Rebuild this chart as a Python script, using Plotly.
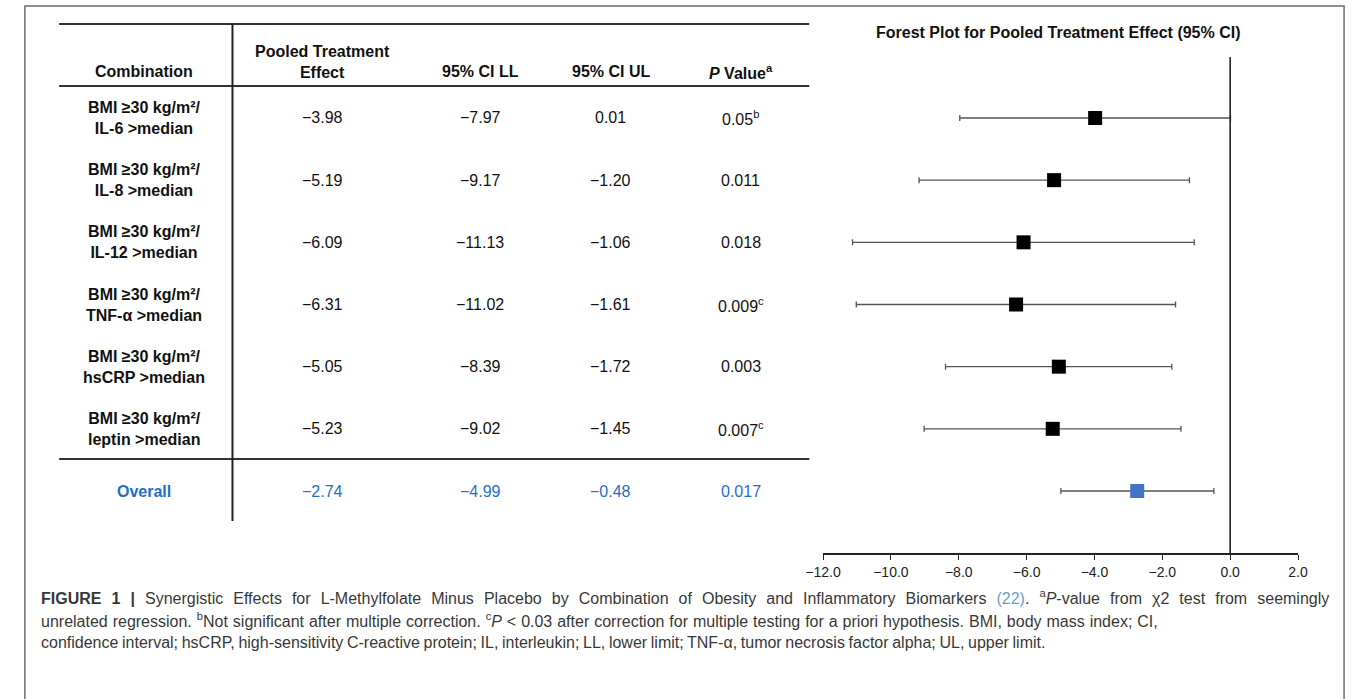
import plotly.graph_objects as go

W, H = 1357, 699

# ---------------- data ----------------
combinations = [
    "BMI ≥30 kg/m²/<br>IL-6 >median",
    "BMI ≥30 kg/m²/<br>IL-8 >median",
    "BMI ≥30 kg/m²/<br>IL-12 >median",
    "BMI ≥30 kg/m²/<br>TNF-α >median",
    "BMI ≥30 kg/m²/<br>hsCRP >median",
    "BMI ≥30 kg/m²/<br>leptin >median",
]
overall_label = "Overall"
effects = [-3.98, -5.19, -6.09, -6.31, -5.05, -5.23]
ci_ll = [-7.97, -9.17, -11.13, -11.02, -8.39, -9.02]
ci_ul = [0.01, -1.20, -1.06, -1.61, -1.72, -1.45]
p_values = ["0.05", "0.011", "0.018", "0.009", "0.003", "0.007"]
p_notes = ["b", "", "", "c", "", "c"]
overall_effect = -2.74
overall_ll = -4.99
overall_ul = -0.48
overall_p = "0.017"
x_ticks = [-12, -10, -8, -6, -4, -2, 0, 2]

headers = ["Combination", "Pooled Treatment<br>Effect", "95% CI LL", "95% CI UL",
           "<i>P</i> Value<sup>a</sup>"]
plot_title = "Forest Plot for Pooled Treatment Effect (95% CI)"

caption_lines = [
    "<b>FIGURE 1 |</b> Synergistic Effects for L-Methylfolate Minus Placebo by Combination of Obesity and "
    "Inflammatory Biomarkers <span style='color:#6b9ccc'>(22)</span>. <sup>a</sup><i>P</i>-value from χ2 test from seemingly",
    "unrelated regression. <sup>b</sup>Not significant after multiple correction. <sup>c</sup><i>P</i> &lt; 0.03 after "
    "correction for multiple testing for a priori hypothesis. BMI, body mass index; CI,",
    "confidence interval; hsCRP, high-sensitivity C-reactive protein; IL, interleukin; LL, lower limit; "
    "TNF-α, tumor necrosis factor alpha; UL, upper limit.",
]

# ---------------- helpers ----------------
def px(x):
    return x / W

def py(y):
    return 1 - y / H

def fmt(v):
    s = f"{abs(v):.2f}"
    return ("−" + s) if v < 0 else s

BLACK = "#111111"
BLUE_TXT = "#1f6fc5"
BLUE_MK = "#4472C4"
FONT = "Arial, Liberation Sans, Helvetica, sans-serif"

n = len(effects)
rows = list(range(n))
overall_row = n

fig = go.Figure()

# forest plot: study rows
fig.add_trace(go.Scatter(
    x=effects, y=rows, mode="markers",
    marker=dict(symbol="square", size=14, color="black"),
    error_x=dict(type="data", symmetric=False,
                 array=[u - e for u, e in zip(ci_ul, effects)],
                 arrayminus=[e - l for e, l in zip(effects, ci_ll)],
                 color="#555555", thickness=1.3, width=3),
    showlegend=False, hoverinfo="skip",
))
# overall row
fig.add_trace(go.Scatter(
    x=[overall_effect], y=[overall_row], mode="markers",
    marker=dict(symbol="square", size=14, color=BLUE_MK),
    error_x=dict(type="data", symmetric=False,
                 array=[overall_ul - overall_effect],
                 arrayminus=[overall_effect - overall_ll],
                 color="#555555", thickness=1.3, width=3),
    showlegend=False, hoverinfo="skip",
))

# axes: forest plot area
fig.update_layout(
    xaxis=dict(domain=[px(822), px(1307)], range=[-12, 2], tickvals=x_ticks,
               tickformat=".1f", showgrid=False, zeroline=False,
               showline=True, linecolor="#222222", linewidth=1.5,
               ticks="outside", ticklen=5, tickwidth=1.3, tickcolor="#222222",
               tickfont=dict(family=FONT, size=14, color="#222222"),
               anchor="y", fixedrange=True),
    yaxis=dict(domain=[py(553), py(57)], range=[6.997, -0.981],
               showgrid=False, zeroline=False, showline=False,
               showticklabels=False, ticks="", fixedrange=True),
)

shapes = []
# zero line
shapes.append(dict(type="line", xref="x", yref="y domain", x0=0, x1=0, y0=0, y1=1,
                   line=dict(color="#222222", width=1.6)))
# outer frame
shapes.append(dict(type="rect", xref="paper", yref="paper",
                   x0=px(7), x1=px(1354), y0=py(705), y1=py(6),
                   line=dict(color="#6e6e6e", width=1.5)))
# table rules
for yy in (24, 86, 459):
    shapes.append(dict(type="line", xref="paper", yref="paper",
                       x0=px(42), x1=px(808), y0=py(yy), y1=py(yy),
                       line=dict(color="#333333", width=2)))
shapes.append(dict(type="line", xref="paper", yref="paper",
                   x0=px(219), x1=px(219), y0=py(24), y1=py(521),
                   line=dict(color="#222222", width=2)))

annotations = []
col_x = [129, 311, 472, 605, 738]

def add_text(x, y, text, size=16, bold=False, color=BLACK, yref="paper", xanchor="center"):
    annotations.append(dict(
        x=px(x), y=y, xref="paper", yref=yref, text=(f"<b>{text}</b>" if bold else text),
        showarrow=False, xanchor=xanchor, yanchor="middle",
        font=dict(family=FONT, size=size, color=color), align="center",
    ))

# headers
add_text(col_x[0], py(72), headers[0], bold=True)
add_text(col_x[1], py(62), headers[1], bold=True)
add_text(col_x[2], py(72), headers[2], bold=True)
add_text(col_x[3], py(72), headers[3], bold=True)
add_text(col_x[4], py(72), headers[4], bold=True)

# table rows
for i in rows:
    add_text(col_x[0], i, combinations[i], bold=True, yref="y")
    add_text(col_x[1], i, fmt(effects[i]), yref="y")
    add_text(col_x[2], i, fmt(ci_ll[i]), yref="y")
    add_text(col_x[3], i, fmt(ci_ul[i]), yref="y")
    ptxt = p_values[i] + (f"<sup>{p_notes[i]}</sup>" if p_notes[i] else "")
    add_text(col_x[4], i, ptxt, yref="y")

# overall row
add_text(col_x[0], overall_row, overall_label, bold=True, color=BLUE_TXT, yref="y")
add_text(col_x[1], overall_row, fmt(overall_effect), color=BLUE_TXT, yref="y")
add_text(col_x[2], overall_row, fmt(overall_ll), color=BLUE_TXT, yref="y")
add_text(col_x[3], overall_row, fmt(overall_ul), color=BLUE_TXT, yref="y")
add_text(col_x[4], overall_row, overall_p, color=BLUE_TXT, yref="y")

# forest plot title
add_text(1062, py(32), plot_title, size=16, bold=True)

# caption (justified-looking first line via word spacing)
spacings = ["5.6px", "0.5px", "-0.8px"]
for k, line in enumerate(caption_lines):
    annotations.append(dict(
        x=px(21), y=py(597 + 22.5 * k), xref="paper", yref="paper",
        text=f"<span style='word-spacing:{spacings[k]}'>{line}</span>",
        showarrow=False, xanchor="left", yanchor="middle", align="left",
        font=dict(family="Liberation Sans, Arial, sans-serif", size=16, color="#383838"),
    ))

fig.update_layout(
    width=W, height=H,
    margin=dict(l=0, r=0, t=0, b=0),
    paper_bgcolor="white", plot_bgcolor="white",
    shapes=shapes, annotations=annotations,
    font=dict(family=FONT),
)

fig.write_html("out.html", config={"displayModeBar": False},
               post_script="document.body.style.margin='0';document.body.style.overflow='hidden';")
